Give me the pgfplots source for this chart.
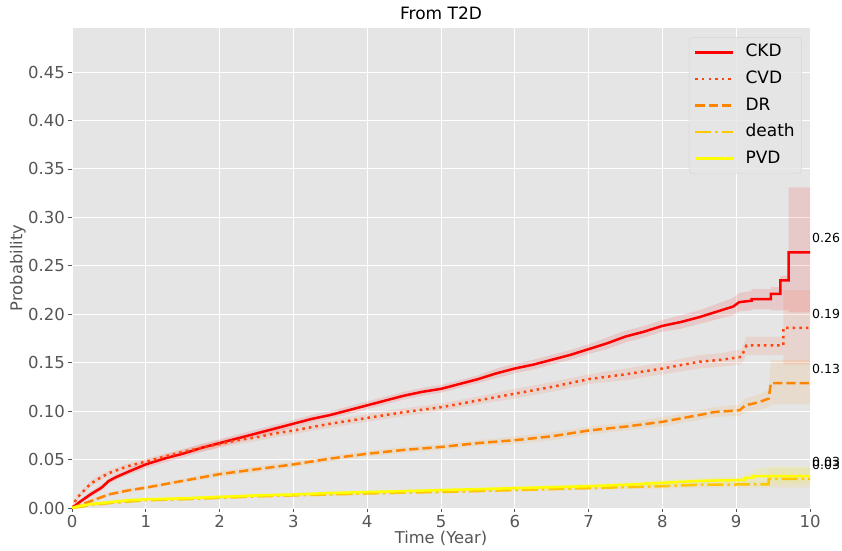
\documentclass[border=0pt]{standalone}
\usepackage{fontspec}
\setmainfont{DejaVu Sans}
\usepackage{pgfplots}
\usepackage{pgfplotstable}
\pgfplotsset{compat=1.18}
\usepgfplotslibrary{fillbetween}
\definecolor{bg}{HTML}{E5E5E5}
\definecolor{tk}{HTML}{555555}
\definecolor{cCKD}{rgb}{1,0,0}
\definecolor{cCVD}{rgb}{1,0.27,0.05}
\definecolor{cDR}{rgb}{1,0.52,0}
\definecolor{cDeath}{rgb}{1,0.78,0}
\definecolor{cPVD}{rgb}{1,1,0}

\pgfplotstableread{
t y lo hi
0 0 0 0
0.1 0.006 0.004 0.008
0.25 0.014 0.011 0.017
0.4 0.021 0.018 0.024
0.5 0.028 0.025 0.031
0.6 0.032 0.029 0.035
0.75 0.037 0.034 0.040
1.0 0.045 0.041 0.049
1.25 0.051 0.047 0.055
1.5 0.056 0.052 0.060
1.75 0.062 0.058 0.066
2.0 0.067 0.063 0.071
2.25 0.072 0.068 0.076
2.5 0.077 0.073 0.081
2.75 0.082 0.078 0.086
3.0 0.087 0.083 0.091
3.25 0.092 0.088 0.096
3.5 0.096 0.092 0.100
3.75 0.101 0.097 0.105
4.0 0.106 0.102 0.110
4.25 0.111 0.107 0.115
4.5 0.116 0.112 0.120
4.75 0.120 0.116 0.124
5.0 0.123 0.119 0.127
5.25 0.128 0.124 0.132
5.5 0.133 0.129 0.137
5.75 0.139 0.134 0.144
6.0 0.144 0.139 0.149
6.25 0.148 0.143 0.153
6.5 0.153 0.148 0.158
6.75 0.158 0.153 0.163
7.0 0.164 0.159 0.169
7.25 0.170 0.164 0.176
7.5 0.177 0.171 0.183
7.75 0.182 0.176 0.188
8.0 0.188 0.182 0.194
8.25 0.192 0.185 0.199
8.5 0.197 0.190 0.204
8.75 0.203 0.195 0.211
8.96 0.208 0.199 0.217
9.04 0.2125 0.203 0.222
9.21 0.214 0.204 0.224
9.21 0.2155 0.205 0.226
9.47 0.2155 0.205 0.226
9.47 0.221 0.204 0.228
9.6 0.221 0.204 0.228
9.6 0.235 0.204 0.240
9.71 0.235 0.204 0.240
9.71 0.264 0.202 0.331
10 0.264 0.202 0.331
}\ckd

\pgfplotstableread{
t y lo hi
0 0 0 0
0.05 0.008 0.006 0.010
0.1 0.013 0.011 0.015
0.25 0.025 0.022 0.028
0.4 0.032 0.029 0.035
0.5 0.036 0.033 0.039
0.75 0.043 0.040 0.046
1.0 0.048 0.045 0.051
1.25 0.053 0.050 0.056
1.5 0.058 0.055 0.061
1.75 0.062 0.058 0.066
2.0 0.066 0.062 0.070
2.25 0.070 0.066 0.074
2.5 0.073 0.069 0.077
2.75 0.077 0.073 0.081
3.0 0.080 0.076 0.084
3.5 0.087 0.083 0.091
4.0 0.093 0.089 0.097
4.5 0.099 0.095 0.103
5.0 0.104 0.100 0.108
5.5 0.111 0.107 0.115
6.0 0.118 0.113 0.123
6.5 0.125 0.120 0.130
7.0 0.133 0.128 0.138
7.5 0.138 0.132 0.144
8.0 0.144 0.138 0.150
8.5 0.151 0.144 0.158
8.8 0.153 0.146 0.160
9.07 0.156 0.148 0.164
9.14 0.168 0.158 0.177
9.64 0.168 0.158 0.177
9.64 0.186 0.148 0.225
10 0.186 0.148 0.225
}\cvd

\pgfplotstableread{
t y lo hi
0 0 0 0
0.1 0.003 0.002 0.004
0.25 0.007 0.005 0.009
0.5 0.014 0.012 0.016
0.75 0.018 0.016 0.020
1.0 0.021 0.019 0.023
1.5 0.028 0.026 0.030
2.0 0.035 0.032 0.038
2.5 0.040 0.037 0.043
3.0 0.045 0.042 0.048
3.5 0.051 0.048 0.054
4.0 0.056 0.053 0.059
4.5 0.060 0.057 0.063
5.0 0.063 0.060 0.066
5.5 0.067 0.064 0.070
6.0 0.070 0.066 0.074
6.5 0.074 0.070 0.078
7.0 0.080 0.076 0.084
7.5 0.084 0.080 0.088
8.0 0.089 0.084 0.094
8.5 0.096 0.091 0.101
8.7 0.099 0.094 0.104
9.05 0.101 0.095 0.107
9.12 0.106 0.099 0.113
9.3 0.109 0.101 0.117
9.44 0.113 0.104 0.122
9.47 0.129 0.107 0.153
10 0.129 0.107 0.153
}\dr

\pgfplotstableread{
t y lo hi
0 0 0 0
0.1 0.001 0.0005 0.0015
0.25 0.003 0.002 0.004
0.5 0.005 0.004 0.006
1.0 0.008 0.007 0.009
1.5 0.009 0.008 0.010
2.0 0.0105 0.0095 0.0115
2.5 0.012 0.011 0.013
3.0 0.013 0.012 0.014
3.5 0.014 0.0125 0.0155
4.0 0.015 0.0135 0.0165
4.5 0.016 0.0145 0.0175
5.0 0.0165 0.015 0.018
5.5 0.0175 0.016 0.019
6.0 0.0185 0.017 0.020
6.5 0.0195 0.018 0.021
7.0 0.0205 0.0185 0.0225
7.5 0.0215 0.0195 0.0235
8.0 0.0225 0.020 0.025
8.5 0.024 0.021 0.027
9.44 0.0245 0.021 0.028
9.44 0.030 0.021 0.041
10 0.030 0.021 0.041
}\death

\pgfplotstableread{
t y lo hi
0 0 0 0
0.1 0.002 0.001 0.003
0.25 0.004 0.003 0.005
0.5 0.006 0.005 0.007
0.75 0.008 0.007 0.009
1.0 0.009 0.008 0.010
1.5 0.010 0.009 0.011
2.0 0.0115 0.010 0.013
2.5 0.013 0.0115 0.0145
3.0 0.014 0.0125 0.0155
3.5 0.0155 0.014 0.017
4.0 0.0165 0.015 0.018
4.5 0.0175 0.016 0.019
5.0 0.0185 0.017 0.020
5.5 0.0195 0.018 0.021
6.0 0.0205 0.0185 0.0225
6.5 0.0215 0.0195 0.0235
7.0 0.0225 0.020 0.025
7.5 0.024 0.0215 0.0265
8.0 0.026 0.023 0.029
8.5 0.028 0.025 0.031
9.12 0.029 0.025 0.033
9.12 0.031 0.026 0.036
9.23 0.031 0.026 0.036
9.23 0.033 0.027 0.040
9.5 0.033 0.025 0.043
10 0.033 0.025 0.043
}\pvd

\begin{document}
\begin{tikzpicture}
\begin{axis}[
  scale only axis, width=738pt, height=480pt,
  xmin=0, xmax=10, ymin=0, ymax=0.4955,
  xtick={0,1,2,3,4,5,6,7,8,9,10},
  ytick={0,0.05,0.10,0.15,0.20,0.25,0.30,0.35,0.40,0.45},
  yticklabel style={/pgf/number format/.cd, fixed, fixed zerofill, precision=2},
  /pgf/number format/assume math mode=true,
  ticklabel style={font=\fontsize{16.5}{20}\selectfont, text=tk},
  tick align=outside, tick pos=left, major tick length=3.5pt,
  tick style={tk, line width=0.8pt},
  grid=major, grid style={white, line width=1pt},
  axis background/.style={fill=bg},
  axis line style={white, line width=1pt},
  xlabel={Time (Year)}, ylabel={Probability},
  label style={font=\fontsize{16.3}{20}\selectfont, text=tk},
  xlabel style={at={(axis description cs:0.5,-0.0625)}, anchor=center},
  ylabel style={at={(axis description cs:-0.0732,0.5)}, anchor=center},
  legend cell align=left,
  legend image code/.code={\draw[#1] (0pt,0pt) -- (38pt,0pt);},
  legend style={at={(0.989,0.981)}, anchor=north east,
    fill=bg, fill opacity=0.8, text opacity=1, draw={rgb,255:red,212;green,212;blue,212},
    rounded corners=4pt, font=\fontsize{17}{20}\selectfont,
    nodes={text height=12.5pt, text depth=3.5pt, inner sep=2pt},
    /tikz/every odd column/.append style={column sep=9pt},
    row sep=6.6pt, inner xsep=5pt, inner ysep=5pt},
]
% confidence bands
\addplot[draw=none, name path=ckdlo, forget plot] table[x=t,y=lo]{\ckd};
\addplot[draw=none, name path=ckdhi, forget plot] table[x=t,y=hi]{\ckd};
\addplot[fill=cCKD, fill opacity=0.12, draw=none, forget plot] fill between[of=ckdlo and ckdhi];
\addplot[draw=none, name path=cvdlo, forget plot] table[x=t,y=lo]{\cvd};
\addplot[draw=none, name path=cvdhi, forget plot] table[x=t,y=hi]{\cvd};
\addplot[fill=cCVD, fill opacity=0.10, draw=none, forget plot] fill between[of=cvdlo and cvdhi];
\addplot[draw=none, name path=drlo, forget plot] table[x=t,y=lo]{\dr};
\addplot[draw=none, name path=drhi, forget plot] table[x=t,y=hi]{\dr};
\addplot[fill=cDR, fill opacity=0.10, draw=none, forget plot] fill between[of=drlo and drhi];
\addplot[draw=none, name path=dtlo, forget plot] table[x=t,y=lo]{\death};
\addplot[draw=none, name path=dthi, forget plot] table[x=t,y=hi]{\death};
\addplot[fill=cDeath, fill opacity=0.10, draw=none, forget plot] fill between[of=dtlo and dthi];
\addplot[draw=none, name path=pvlo, forget plot] table[x=t,y=lo]{\pvd};
\addplot[draw=none, name path=pvhi, forget plot] table[x=t,y=hi]{\pvd};
\addplot[fill=cPVD, fill opacity=0.12, draw=none, forget plot] fill between[of=pvlo and pvhi];
% lines
\addplot[cCKD, line width=2.5pt, no marks] table[x=t,y=y]{\ckd};
\addlegendentry{CKD}
\addplot[cCVD, line width=2.5pt, no marks, dash pattern=on 2.5pt off 4.1pt] table[x=t,y=y]{\cvd};
\addlegendentry{CVD}
\addplot[cDR, line width=2.5pt, no marks, dash pattern=on 9.2pt off 4pt] table[x=t,y=y]{\dr};
\addlegendentry{DR}
\addplot[cDeath, line width=2.5pt, no marks, dash pattern=on 16pt off 4pt on 2.5pt off 4pt] table[x=t,y=y]{\death};
\addlegendentry{death}
\addplot[cPVD, line width=2.5pt, no marks] table[x=t,y=y]{\pvd};
\addlegendentry{PVD}
\end{axis}
% title and end labels
\begin{axis}[
  scale only axis, width=738pt, height=480pt,
  xmin=0, xmax=10, ymin=0, ymax=0.4955,
  hide axis, clip=false]
\node[anchor=center, inner sep=0pt, font=\fontsize{17}{20}\selectfont] at (axis description cs:0.5,1.031) {From T2D};
\node[anchor=base west, inner sep=0pt, xshift=2pt, font=\fontsize{12.5}{14}\selectfont] at (axis cs:10,0.274) {0.26};
\node[anchor=base west, inner sep=0pt, xshift=2pt, font=\fontsize{12.5}{14}\selectfont] at (axis cs:10,0.196) {0.19};
\node[anchor=base west, inner sep=0pt, xshift=2pt, font=\fontsize{12.5}{14}\selectfont] at (axis cs:10,0.139) {0.13};
\node[anchor=base west, inner sep=0pt, xshift=2pt, font=\fontsize{12.5}{14}\selectfont] at (axis cs:10,0.040) {0.03};
\node[anchor=base west, inner sep=0pt, xshift=2pt, font=\fontsize{12.5}{14}\selectfont] at (axis cs:10,0.043) {0.03};
\end{axis}
\pgfresetboundingbox
\path (-72pt,-42pt) rectangle (770pt,508pt);
\end{tikzpicture}
\end{document}
